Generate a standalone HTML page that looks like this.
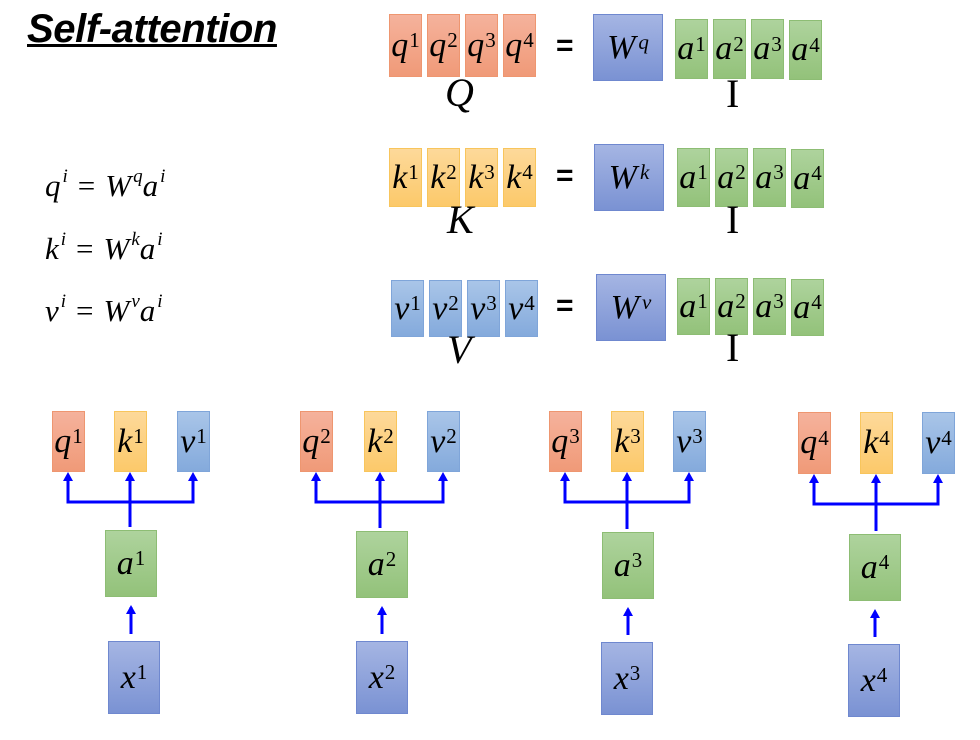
<!DOCTYPE html>
<html><head><meta charset="utf-8">
<style>
body{margin:0;width:980px;height:740px;background:#fff;position:relative;overflow:hidden;font-family:"Liberation Serif",serif}
.b{position:absolute;box-sizing:border-box;display:flex;align-items:center;justify-content:center;font-style:italic;font-size:34px;color:#000;line-height:1}
.b sup{font-style:normal;font-size:21px;position:relative;top:-5px;vertical-align:top;margin-left:1px}
.b sup.i{font-style:italic;margin-left:3px}
.o{background:linear-gradient(#f5b29c,#f09a78);border:1px solid #ee9670}
.y{background:linear-gradient(#fdd99a,#fcc96a);border:1px solid #f8c55c}
.lb{background:linear-gradient(#a9c5e8,#84aadc);border:1px solid #7fa5d9}
.g{background:linear-gradient(#aed39d,#93c27a);border:1px solid #8dbd74}
.w{background:linear-gradient(#a5b5e3,#7a92d3);border:1px solid #6f88cf}
.t{position:absolute;line-height:1;white-space:nowrap}
.eq{position:absolute;font-family:"Liberation Sans",sans-serif;font-weight:bold;font-size:30px;line-height:1}
.m{position:absolute;font-style:italic;font-size:31px;line-height:1;white-space:nowrap}
.m sup{font-size:19px;vertical-align:top;position:relative;top:-3px;margin-left:2px}
.m .e{font-style:normal;margin:0 10px}
</style></head><body>
<div class="t" style="left:27px;top:9px;font-family:'Liberation Sans',sans-serif;font-weight:bold;font-style:italic;font-size:40px;text-decoration:underline;text-decoration-thickness:3px;letter-spacing:-0.4px">Self-attention</div>
<div class="m" style="left:45px;top:170px">q<sup>i</sup><span class="e">=</span>W<sup>q</sup>a<sup>i</sup></div>
<div class="m" style="left:45px;top:233px">k<sup>i</sup><span class="e">=</span>W<sup>k</sup>a<sup>i</sup></div>
<div class="m" style="left:45px;top:295px">v<sup>i</sup><span class="e">=</span>W<sup>v</sup>a<sup>i</sup></div>
<svg id="arrows" width="980" height="740" style="position:absolute;left:0;top:0"></svg>
<script>
function box(x,y,w,h,cls,l,s,name,it){
  var d=document.createElement('div');
  d.className='b '+cls;
  d.style.cssText='left:'+x+'px;top:'+y+'px;width:'+w+'px;height:'+h+'px';
  d.innerHTML=l+(s?'<sup'+(it?' class="i"':'')+'>'+s+'</sup>':'');
  
  
  document.body.appendChild(d);
}
function txt(x,y,html,size,name,extra){
  var d=document.createElement('div');
  d.className='t';
  d.style.cssText='left:'+x+'px;top:'+y+'px;font-size:'+size+'px;'+(extra||'');
  d.innerHTML=html;
  
  
  document.body.appendChild(d);
}
var rows=[
 {v:'q',cls:'o',xs:[389,427,465,503],y:14,h:63,W:[593,14,70,67],a:[675,19,60],lab:'Q',ly:73,lx:445,iy:74,ex:'font-style:italic'},
 {v:'k',cls:'y',xs:[389,427,465,503],y:148,h:59,W:[594,144,70,67],a:[677,148,59],lab:'K',ly:200,lx:447,iy:200,ex:'font-style:italic'},
 {v:'v',cls:'lb',xs:[391,429,467,505],y:280,h:57,W:[596,274,70,67],a:[677,278,57],lab:'V',ly:330,lx:447,iy:328,ex:'font-style:italic'}
];
rows.forEach(function(r){
  r.xs.forEach(function(x,i){box(x,r.y,33,r.h,r.cls,r.v,i+1,r.v+'-matrix-col-'+(i+1));});
  var eq=document.createElement('div');eq.className='eq';eq.textContent='=';
  eq.style.cssText='left:556px;top:'+(r.W[1]+r.W[3]/2-17)+'px';
  
  
  document.body.appendChild(eq);
  box(r.W[0],r.W[1],r.W[2],r.W[3],'w','W',r.v,'weight-matrix-'+r.v,true);
  [0,1,2,3].forEach(function(i){box(r.a[0]+i*38,r.a[1]+(i==3?1:0),33,r.a[2],'g','a',i+1,'input-matrix-col-'+(i+1));});
  txt(r.lx,r.ly,r.lab,40,'label-'+r.lab,r.ex);
  txt(726,r.iy,'I',40,'label-I','');
});
var units=[
 {q:52,k:114,v:177,ty:411,ah:61,a:105,ay:530,x:108,xy:641},
 {q:300,k:364,v:427,ty:411,ah:61,a:356,ay:531,x:356,xy:641},
 {q:549,k:611,v:673,ty:411,ah:61,a:602,ay:532,x:601,xy:642},
 {q:798,k:860,v:922,ty:412,ah:62,a:849,ay:534,x:848,xy:644}
];
var svg=document.getElementById('arrows');
var NS='http://www.w3.org/2000/svg';
function ln(x1,y1,x2,y2){var l=document.createElementNS(NS,'line');l.setAttribute('x1',x1);l.setAttribute('y1',y1);l.setAttribute('x2',x2);l.setAttribute('y2',y2);l.setAttribute('stroke','#0000ff');l.setAttribute('stroke-width','3');
 
 
 svg.appendChild(l);}
function head(x,y){var p=document.createElementNS(NS,'polygon');p.setAttribute('points',(x-5)+','+(y+9)+' '+(x+5)+','+(y+9)+' '+x+','+y);p.setAttribute('fill','#0000ff');
 
 
 svg.appendChild(p);}
units.forEach(function(u,i){
  var n=i+1;
  box(u.q,u.ty,33,u.ah,'o','q',n,'q-'+n);
  box(u.k,u.ty,33,u.ah,'y','k',n,'k-'+n);
  box(u.v,u.ty,33,u.ah,'lb','v',n,'v-'+n);
  box(u.a,u.ay,52,67,'g','a',n,'a-'+n);
  box(u.x,u.xy,52,73,'w','x',n,'x-'+n);
  var hy=u.ty+u.ah+30, cq=u.q+16, ck=u.k+16, cv=u.v+16, ca=u.a+26;
  ln(cq,hy,cv,hy);
  ln(cq,hy+1.5,cq,u.ty+u.ah+8);head(cq,u.ty+u.ah);
  ln(ck,u.ay-3,ck,u.ty+u.ah+8);head(ck,u.ty+u.ah);
  ln(cv,hy+1.5,cv,u.ty+u.ah+8);head(cv,u.ty+u.ah);
  ln(ca,u.xy-7,ca,u.ay+u.ah+16);head(ca,u.ay+67+8);
});
</script>
</body></html>
